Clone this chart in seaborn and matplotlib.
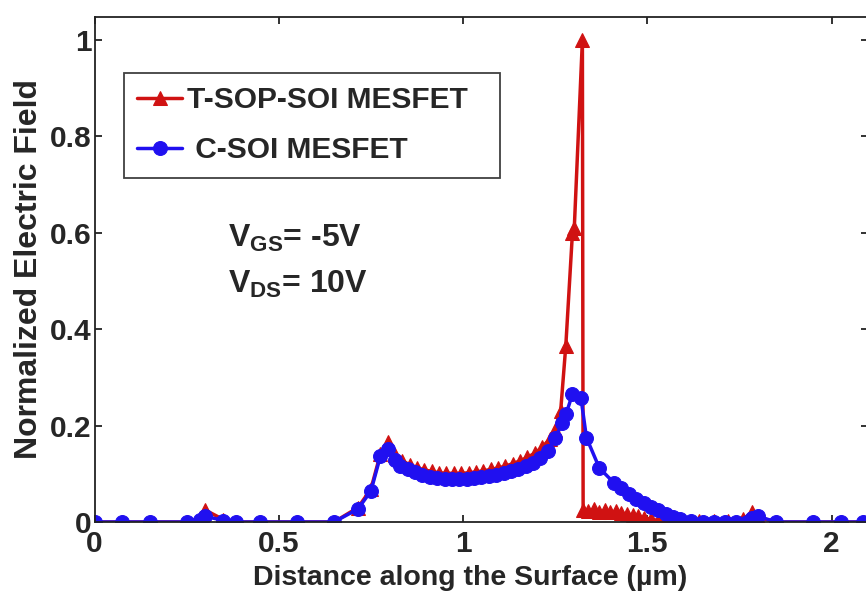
import matplotlib
matplotlib.use("Agg")
import matplotlib.pyplot as plt
import seaborn as sns
import pandas as pd

# ---- data ----
blue_x = [0.0, 0.075, 0.15, 0.25, 0.285, 0.30, 0.35, 0.385, 0.45, 0.55, 0.65, 0.715, 0.75, 0.776,
          0.797, 0.815, 0.83, 0.85, 0.87, 0.89, 0.91, 0.93, 0.95, 0.97, 0.99, 1.01, 1.03, 1.05,
          1.07, 1.09, 1.11, 1.13, 1.15, 1.17, 1.19, 1.21, 1.23, 1.25, 1.27, 1.28, 1.297, 1.32,
          1.335, 1.37, 1.41, 1.43, 1.45, 1.47, 1.49, 1.51, 1.53, 1.55, 1.57, 1.59, 1.62, 1.65,
          1.68, 1.71, 1.74, 1.77, 1.785, 1.80, 1.85, 1.95, 2.025, 2.085]
blue_y = [0.0, 0.0, 0.0, 0.0, 0.005, 0.012, 0.003, 0.0, 0.0, 0.0, 0.0, 0.027, 0.064, 0.137,
          0.152, 0.128, 0.117, 0.109, 0.103, 0.098, 0.094, 0.091, 0.090, 0.089, 0.089, 0.090, 0.091, 0.093,
          0.095, 0.098, 0.101, 0.105, 0.110, 0.116, 0.123, 0.133, 0.148, 0.175, 0.205, 0.225, 0.265, 0.258,
          0.175, 0.112, 0.081, 0.070, 0.058, 0.048, 0.039, 0.031, 0.024, 0.017, 0.011, 0.006, 0.002, 0.0,
          0.0, 0.0, 0.0, 0.0, 0.008, 0.012, 0.0, 0.0, 0.0, 0.0]

red_x = [0.0, 0.075, 0.15, 0.25, 0.285, 0.30, 0.35, 0.385, 0.45, 0.55, 0.65, 0.715, 0.75, 0.776,
         0.797, 0.815, 0.835, 0.855, 0.875, 0.895, 0.915, 0.935, 0.955, 0.975, 0.995, 1.015, 1.035,
         1.055, 1.075, 1.095, 1.115, 1.135, 1.155, 1.175, 1.195, 1.215, 1.235, 1.25, 1.265, 1.279,
         1.297, 1.302, 1.324, 1.326, 1.34, 1.355, 1.37, 1.385, 1.40, 1.415, 1.43, 1.445, 1.46, 1.475,
         1.49, 1.51, 1.53, 1.55, 1.60, 1.64, 1.68, 1.72, 1.76, 1.785, 1.80, 1.85, 1.95, 2.025, 2.085]
red_y = [0.0, 0.0, 0.0, 0.0, 0.008, 0.025, 0.005, 0.0, 0.0, 0.0, 0.0, 0.03, 0.068, 0.142,
         0.166, 0.140, 0.127, 0.119, 0.113, 0.108, 0.105, 0.102, 0.101, 0.101, 0.101, 0.102, 0.104,
         0.106, 0.109, 0.112, 0.116, 0.121, 0.127, 0.134, 0.143, 0.155, 0.172, 0.19, 0.23, 0.366,
         0.600, 0.610, 1.0, 0.025, 0.022, 0.026, 0.020, 0.024, 0.021, 0.022, 0.018, 0.017, 0.014, 0.012,
         0.009, 0.006, 0.003, 0.0, 0.002, 0.003, 0.003, 0.003, 0.006, 0.02, 0.01, 0.0, 0.0, 0.0, 0.0]

x_ticks = [0, 0.5, 1, 1.5, 2]
x_tick_labels = ["0", "0.5", "1", "1.5", "2"]
y_ticks = [0, 0.2, 0.4, 0.6, 0.8, 1]
y_tick_labels = ["0", "0.2", "0.4", "0.6", "0.8", "1"]

red_label = "T-SOP-SOI MESFET"
blue_label = " C-SOI MESFET"

RED = "#d01212"
BLUE = "#2010f0"

sns.set_theme(style="white")
plt.rcParams["font.family"] = ["Liberation Sans", "DejaVu Sans"]
plt.rcParams["font.weight"] = "bold"
plt.rcParams["mathtext.fontset"] = "custom"
plt.rcParams["mathtext.rm"] = "Liberation Sans:bold"
plt.rcParams["mathtext.it"] = "Liberation Sans:bold"
plt.rcParams["mathtext.bf"] = "Liberation Sans:bold"
plt.rcParams["mathtext.default"] = "bf"

W, H = 866, 596
fig = plt.figure(figsize=(W / 100, H / 100), dpi=100)
left, top, bottom = 94.5, 17, 522
right = left + 2.1 * 368.5
ax = fig.add_axes([left / W, 1 - bottom / H, (right - left) / W, (bottom - top) / H])

red_df = pd.DataFrame({"x": red_x, "y": red_y})
blue_df = pd.DataFrame({"x": blue_x, "y": blue_y})

sns.lineplot(data=red_df, x="x", y="y", ax=ax, color=RED, marker="^", markersize=9.5,
             markeredgecolor=RED, linewidth=2.5, label=red_label, estimator=None, sort=False)
sns.lineplot(data=blue_df, x="x", y="y", ax=ax, color=BLUE, marker="o", markersize=10,
             markeredgecolor=BLUE, linewidth=2.5, label=blue_label, estimator=None, sort=False)

ax.set_xlim(0, 2.1)
ax.set_ylim(0, (bottom - top) / 482)
ax.set_xticks(x_ticks)
ax.set_xticklabels(x_tick_labels)
ax.set_yticks(y_ticks)
ax.set_yticklabels(y_tick_labels)
ax.tick_params(direction="in", length=5, width=1.3, color="#222222", labelsize=21.5,
               top=True, right=True, bottom=True, left=True)
ax.tick_params(axis="x", pad=6)
ax.tick_params(axis="y", pad=2)
for lab in ax.get_xticklabels() + ax.get_yticklabels():
    lab.set_fontweight("bold")
for sp in ax.spines.values():
    sp.set_visible(True)
    sp.set_color("#222222")
    sp.set_linewidth(1.3)

ax.set_xlabel("Distance along the Surface (µm)", fontsize=20.5, fontweight="bold", labelpad=5)
ax.xaxis.set_label_coords((470 - left) / (right - left), -(578 - bottom) / (bottom - top))
ax.xaxis.label.set_va("center")
ax.set_ylabel("Normalized Electric Field", fontsize=23, fontweight="bold", labelpad=4)

lx0 = (124 - left) / (right - left)
ly1 = (bottom - 73) / (bottom - top)
lw = (500 - 124) / (right - left)
lh = (182 - 73) / (bottom - top)
leg = ax.legend(loc="upper left", bbox_to_anchor=(lx0, ly1 - lh, lw, lh), mode="expand",
                borderaxespad=0, fontsize=21.5, frameon=True, fancybox=False, edgecolor="#111111",
                handlelength=1.5, handletextpad=0.17, labelspacing=0.73, borderpad=0.45)
leg.get_frame().set_linewidth(1.3)
for t in leg.get_texts():
    t.set_fontweight("bold")

fig.text(228 / W, 1 - 247 / H, "V$_{GS}$= -5V", fontsize=23, fontweight="bold",
         va="baseline", ha="left")
fig.text(228 / W, 1 - 293 / H, "V$_{DS}$= 10V", fontsize=23, fontweight="bold",
         va="baseline", ha="left")

fig.savefig("out.png", dpi=100)
